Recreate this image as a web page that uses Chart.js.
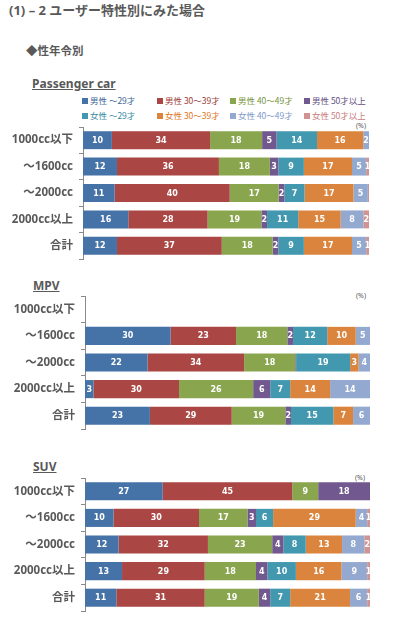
<!DOCTYPE html>
<html>
<head>
<meta charset="utf-8">
<script src="https://cdn.jsdelivr.net/npm/chart.js@4.4.0/dist/chart.umd.min.js"></script>
<style>
body{margin:0;background:#fff;}
#page{position:relative;width:415px;height:639px;overflow:hidden;font-family:"Noto Sans","Noto Sans CJK JP",sans-serif;color:#595959;}
.t{position:absolute;font-weight:bold;white-space:nowrap;line-height:1;}
.pct{position:absolute;font-size:7px;line-height:1;color:#595959;}
canvas{position:absolute;left:0;}
#legend{position:absolute;left:0;top:0;}
.lg{position:absolute;font-size:8.5px;line-height:1;white-space:nowrap;font-family:"Noto Sans CJK JP",sans-serif;}
.lg i{display:inline-block;width:6px;height:6px;margin-right:2px;vertical-align:0px;}
</style>
</head>
<body>
<div id="page">
  <div class="t" style="left:9px;top:4px;font-size:13px;font-family:'Noto Sans','Noto Sans CJK JP';">(1) – 2 ユーザー特性別にみた場合</div>
  <div class="t" style="left:26px;top:45px;font-size:11.5px;font-family:'Noto Sans CJK JP';">◆性年令別</div>
  <div class="t" style="left:32px;top:78px;font-size:12px;text-decoration:underline;">Passenger car</div>
  <div class="t" style="left:33px;top:280px;font-size:12px;text-decoration:underline;">MPV</div>
  <div class="t" style="left:33px;top:461px;font-size:12px;text-decoration:underline;">SUV</div>
  <div id="legend"></div>
  <div class="pct" style="left:356px;top:122px;">(%)</div>
  <div class="pct" style="left:356px;top:292px;">(%)</div>
  <div class="pct" style="left:355px;top:474px;">(%)</div>
  <canvas id="chartPassenger" width="369" height="134" style="top:126px;"></canvas>
  <canvas id="chartMPV" width="370" height="135" style="top:295px;"></canvas>
  <canvas id="chartSUV" width="370" height="135" style="top:477px;"></canvas>
</div>
<script>
var categories = ['1000cc以下', '～1600cc', '～2000cc', '2000cc以上', '合計'];

var seriesNames = ['男性 ～29才', '男性 30～39才', '男性 40～49才', '男性 50才以上',
                   '女性 ～29才', '女性 30～39才', '女性 40～49才', '女性 50才以上'];
var seriesColors = ['#4572A7', '#AA4643', '#89A54E', '#71588F',
                    '#4198AF', '#DB843D', '#93A9CF', '#D19392'];
var legendTextColors = ['#3F6797', '#9C3B38', '#7A9442', '#644E80',
                        '#3A8BA1', '#E0751B', '#7F9AC8', '#C97C7B'];

// one row per category, one column per series (%)
var passengerCar = [
    [10, 34, 18, 5, 14, 16, 2, 0],
    [12, 36, 18, 3, 9, 17, 5, 1],
    [11, 40, 17, 2, 7, 17, 5, 0.4],
    [16, 28, 19, 2, 11, 15, 8, 2],
    [12, 37, 18, 2, 9, 17, 5, 1]
];
var mpv = [
    [0, 0, 0, 0, 0, 0, 0, 0],
    [30, 23, 18, 2, 12, 10, 5, 0],
    [22, 34, 18, 0.3, 19, 3, 4, 0],
    [3, 30, 26, 6, 7, 14, 14, 0],
    [23, 29, 19, 2, 15, 7, 6, 0]
];
var suv = [
    [27, 45, 9, 18, 0, 0, 0, 0],
    [10, 30, 17, 3, 6, 29, 4, 1],
    [12, 32, 23, 4, 8, 13, 8, 2],
    [13, 29, 18, 4, 10, 16, 9, 1],
    [11, 31, 19, 4, 7, 21, 6, 1]
];

// legend (4 columns x 2 rows)
var legendCols = [82, 157, 230, 304];
var legendRows = [96, 111];
var lg = document.getElementById('legend');
for (var i = 0; i < seriesNames.length; i++) {
    var d = document.createElement('div');
    d.className = 'lg';
    d.style.left = legendCols[i % 4] + 'px';
    d.style.top = legendRows[Math.floor(i / 4)] + 'px';
    d.style.color = legendTextColors[i];
    d.innerHTML = '<i style="background:' + seriesColors[i] + '"></i>' + seriesNames[i];
    lg.appendChild(d);
}

var segLabels = {
    id: 'segLabels',
    afterDatasetsDraw: function(chart) {
        var c = chart.ctx;
        c.save();
        c.font = 'bold 8px "DejaVu Sans", sans-serif';
        c.fillStyle = '#ffffff';
        c.textAlign = 'center';
        c.textBaseline = 'middle';
        chart.data.datasets.forEach(function(ds, i) {
            chart.getDatasetMeta(i).data.forEach(function(bar, j) {
                var v = ds.raw[j];
                if (v < 0.5) return;
                c.fillText(String(Math.round(v)), (bar.x + bar.base) / 2, bar.y + 0.5);
            });
        });
        c.restore();
    }
};

function drawChart(chartID, rows, axisWidth) {
    var datasets = seriesNames.map(function(name, s) {
        return {
            label: name,
            data: rows.map(function(r) {
                var sum = r.reduce(function(a, b) { return a + b; }, 0);
                return sum ? r[s] / sum * 100 : 0;
            }),
            raw: rows.map(function(r) { return r[s]; }),
            backgroundColor: seriesColors[s],
            borderWidth: 0,
            barPercentage: 0.68,
            categoryPercentage: 1
        };
    });

    new Chart(document.getElementById(chartID), {
        type: 'bar',
        data: { labels: categories, datasets: datasets },
        options: {
            indexAxis: 'y',
            responsive: false,
            animation: false,
            devicePixelRatio: 1,
            layout: { padding: { top: 1, bottom: 1, left: 0, right: 0 } },
            plugins: {
                legend: { display: false },
                tooltip: { enabled: false }
            },
            scales: {
                x: { stacked: true, display: false, min: 0, max: 100 },
                y: {
                    stacked: true,
                    afterFit: function(scale) {
                        scale.width = axisWidth;
                        scale.paddingTop = 0;
                        scale.paddingBottom = 0;
                    },
                    border: { display: true, color: '#8a8a8a', width: 1 },
                    grid: {
                        offset: true,
                        drawOnChartArea: false,
                        drawTicks: true,
                        tickLength: 4,
                        color: '#8a8a8a'
                    },
                    ticks: {
                        color: '#595959',
                        padding: 6,
                        font: { family: '"Noto Sans", "Noto Sans CJK JP"', size: 11.5, weight: 'bold' }
                    }
                }
            }
        },
        plugins: [segLabels]
    });
}

drawChart('chartPassenger', passengerCar, 83);
drawChart('chartMPV', mpv, 85);
drawChart('chartSUV', suv, 85);
</script>
</body>
</html>
